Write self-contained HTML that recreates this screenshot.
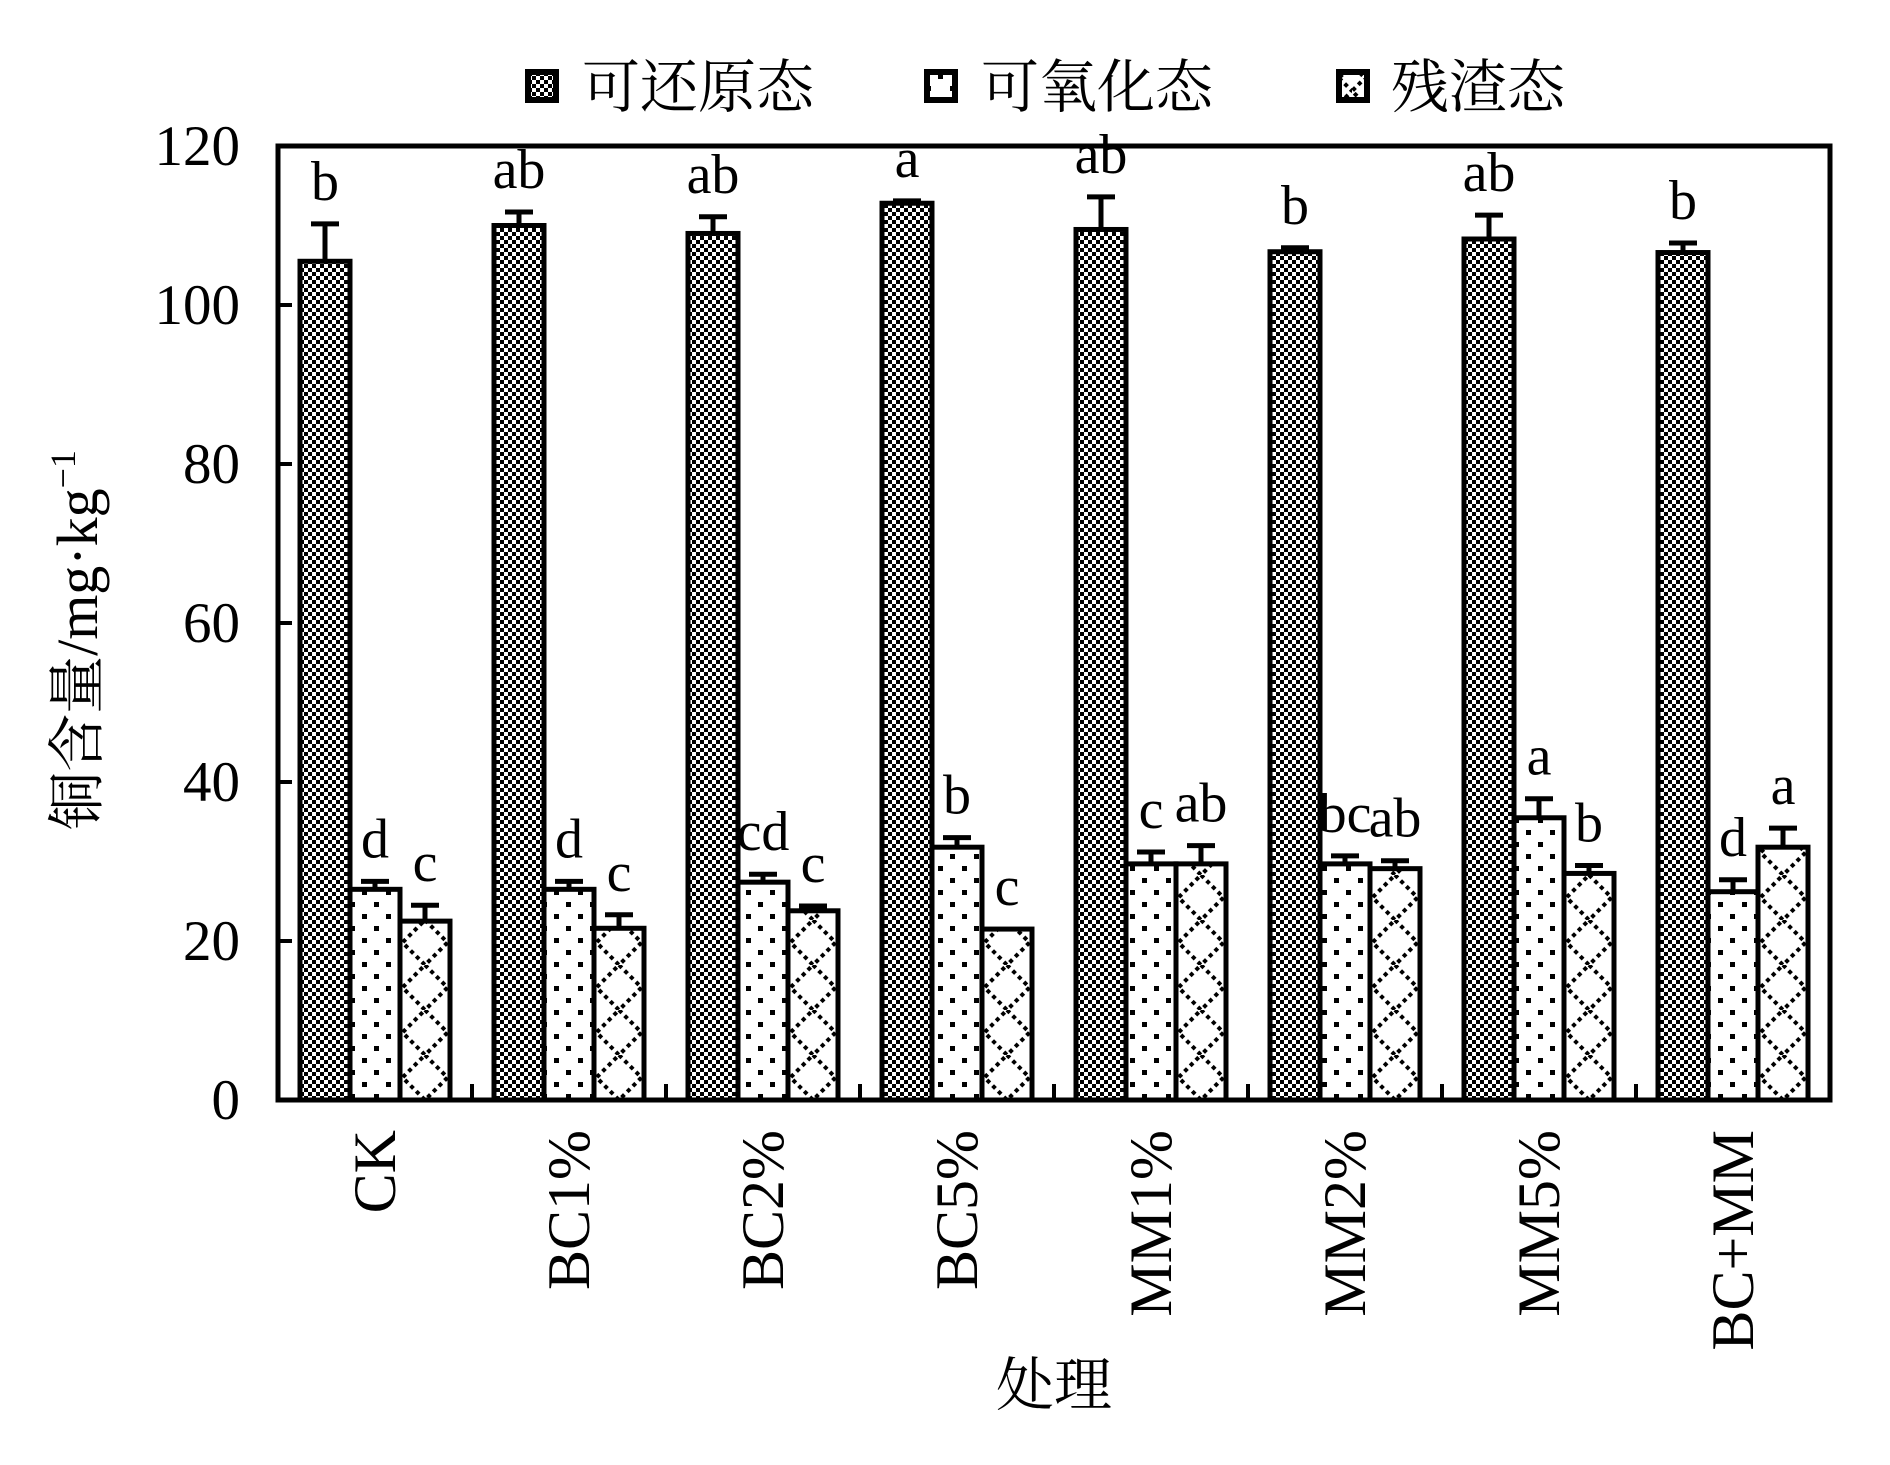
<!DOCTYPE html>
<html><head><meta charset="utf-8"><style>
html,body{margin:0;padding:0;background:#fff;}
svg{display:block;}
text{font-family:"Liberation Serif","Noto Serif CJK SC",serif;fill:#000;}
</style></head>
<body>
<svg id="chart" width="1890" height="1465" viewBox="0 0 1890 1465" xmlns="http://www.w3.org/2000/svg">
<defs id="defs">
<pattern id="pChecker" width="8" height="8" patternUnits="userSpaceOnUse">
<rect width="8" height="8" fill="#fff"/><rect width="4" height="4" fill="#000"/><rect x="4" y="4" width="4" height="4" fill="#000"/>
</pattern>
<pattern id="pDots" width="24" height="24" patternUnits="userSpaceOnUse">
<rect width="24" height="24" fill="#fff"/><rect x="2" y="2" width="5" height="5" fill="#000"/><rect x="14" y="14" width="5" height="5" fill="#000"/>
</pattern>
<pattern id="pCrossLeg" width="26" height="26" patternUnits="userSpaceOnUse">
<rect width="26" height="26" fill="#fff"/><path d="M13 0 L26 13 L13 26 L0 13 Z" fill="none" stroke="#000" stroke-width="4" stroke-dasharray="4 4"/>
</pattern>
</defs>
<g id="legend"></g>
<g id="axes"></g>
<g id="bars"></g>
</svg>
<script>
const categories = ["CK","BC1%","BC2%","BC5%","MM1%","MM2%","MM5%","BC+MM"];
const seriesNames = ["可还原态","可氧化态","残渣态"];
const reducible = [105.5,110,109,112.8,109.5,106.7,108.3,106.6];
const reducibleErr = [4.7,1.7,2.1,0.3,4.1,0.5,3,1.2];
const oxidizable = [26.5,26.5,27.4,31.8,29.7,29.7,35.5,26.2];
const oxidizableErr = [1,1,1,1.2,1.5,1,2.4,1.5];
const residual = [22.5,21.6,23.8,21.5,29.7,29.1,28.5,31.8];
const residualErr = [2,1.7,0.6,0,2.3,1,1,2.4];
const reducibleLetters = ["b","ab","ab","a","ab","b","ab","b"];
const oxidizableLetters = ["d","d","cd","b","c","bc","a","d"];
const residualLetters = ["c","c","c","c","ab","ab","b","a"];
const yTicks = [0,20,40,60,80,100,120];

const NS="http://www.w3.org/2000/svg";
const L=278,R=1830,T=146,B=1100,yMax=120;
const y=v=>B-(v/yMax)*(B-T);
const band=(R-L)/categories.length;
const xc=i=>L+band*(i+0.5);
const bw=50;
function mk(tag,attrs,parent,txt){const e=document.createElementNS(NS,tag);for(const k in attrs)e.setAttribute(k,attrs[k]);if(txt!==undefined)e.textContent=txt;parent.appendChild(e);return e;}
const axes=document.getElementById('axes');
const bars=document.getElementById('bars');
const legend=document.getElementById('legend');
const defs=document.getElementById('defs');

yTicks.forEach(t=>{
  const ln=mk('line',{x1:L,x2:L+14,y1:y(t),y2:y(t),stroke:'#000','stroke-width':4},axes);
  
  
  const tx=mk('text',{x:240,y:y(t)+19,'text-anchor':'end','font-size':57},axes,String(t));
  
  
});
categories.forEach((c,i)=>{
  if(i>0){const tk=mk('line',{x1:L+band*i,x2:L+band*i,y1:B,y2:B-16,stroke:'#000','stroke-width':4},axes);
  
  }
  const tx=mk('text',{transform:`translate(${xc(i)+20},1130) rotate(-90)`,'text-anchor':'end','font-size':60},axes,c);
  
  
});

const series=[
 {v:reducible,e:reducibleErr,l:reducibleLetters,fill:'url(#pChecker)',name:'reducible'},
 {v:oxidizable,e:oxidizableErr,l:oxidizableLetters,fill:'url(#pDots)',name:'oxidizable'},
 {v:residual,e:residualErr,l:residualLetters,fill:'cross',name:'residual'}];
series.forEach((s,si)=>{
  s.v.forEach((val,i)=>{
    const x0=xc(i)-1.5*bw+si*bw;
    let fill=s.fill;
    if(fill==='cross'){
      const pid='pCross'+i;
      const p=mk('pattern',{id:pid,x:x0+2.5,y:B,width:45,height:45,patternUnits:'userSpaceOnUse'},defs);
      mk('rect',{width:45,height:45,fill:'#fff'},p);
      mk('path',{d:'M22.5 0 L45 22.5 L22.5 45 L0 22.5 Z',fill:'none',stroke:'#000','stroke-width':4,'stroke-dasharray':'4 4'},p);
      fill='url(#'+pid+')';
    }
    const r=mk('rect',{x:x0,y:y(val),width:bw,height:B-y(val),fill:fill,stroke:'#000','stroke-width':5},bars);
    
    
    const top=y(val+s.e[i]);
    if(s.e[i]>0.05){
      const eb=mk('path',{d:`M${x0+bw/2} ${y(val)} V${top} M${x0+bw/2-14} ${top} H${x0+bw/2+14}`,stroke:'#000','stroke-width':5,fill:'none'},bars);
      
      
    }
    const lt=mk('text',{x:x0+bw/2,y:top-24,'text-anchor':'middle','font-size':56},bars,s.l[i]);
    
    
  });
});

const fr=mk('rect',{x:L,y:T,width:R-L,height:B-T,fill:'none',stroke:'#000','stroke-width':5},axes);



const yt=mk('text',{transform:'translate(97,640) rotate(-90)','text-anchor':'middle','font-size':58},axes);


yt.appendChild(document.createTextNode('铜含量/mg·kg'));
mk('tspan',{dy:-22,'font-size':36},yt,'−1');
const xt=mk('text',{x:1054,y:1405,'text-anchor':'middle','font-size':58},axes,'处理');



const legX=[525,924,1336], legT=[582,981,1391];
const legFill=['url(#pChecker)','url(#pDots)','url(#pCrossLeg)'];
seriesNames.forEach((n,i)=>{
  const sw=mk('rect',{x:legX[i]+3,y:72,width:28,height:28,fill:legFill[i],stroke:'#000','stroke-width':6},legend);
  
  
  const tx=mk('text',{x:legT[i],y:107,'font-size':58},legend,n);
  
  
});
</script>
</body></html>
